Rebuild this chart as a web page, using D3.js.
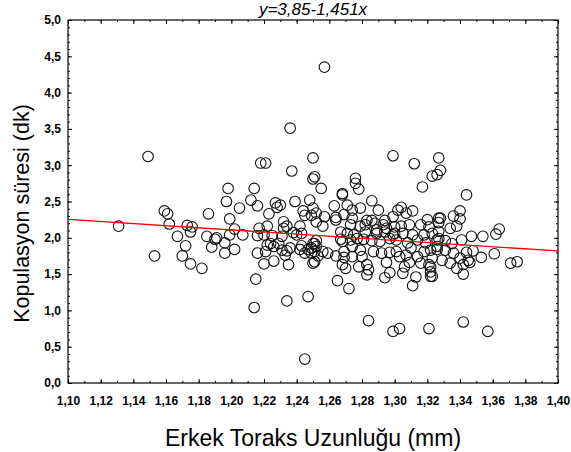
<!DOCTYPE html>
<html>
<head>
<meta charset="utf-8">
<script src="https://cdn.jsdelivr.net/npm/d3@7"></script>
<style>
  body { margin: 0; background: #fff; }
  #chart { width: 571px; height: 452px; }
  text { font-family: Arial, "Liberation Sans", sans-serif; }
</style>
</head>
<body>
<div id="chart"></div>
<script>
// x: male thorax length (mm), y: copulation duration (min)
const thoraxLength = [
  1.131, 1.149, 1.153, 1.159, 1.161, 1.162, 1.167, 1.170, 1.172, 1.173, 1.175, 1.175, 1.176, 1.182, 1.185, 1.186, 1.188, 1.190,
  1.191, 1.196, 1.196, 1.197, 1.198, 1.199, 1.199, 1.202, 1.202, 1.205, 1.207, 1.212, 1.214, 1.214, 1.215, 1.216, 1.216, 1.217,
  1.216, 1.218, 1.221, 1.221, 1.222, 1.220, 1.220, 1.222, 1.223, 1.224, 1.225, 1.226, 1.226, 1.227, 1.228, 1.229, 1.230, 1.231,
  1.231, 1.232, 1.232, 1.233, 1.234, 1.234, 1.235, 1.234, 1.236, 1.236, 1.237, 1.238, 1.239, 1.240, 1.242, 1.242, 1.243, 1.243,
  1.244, 1.245, 1.245, 1.245, 1.247, 1.247, 1.248, 1.249, 1.249, 1.250, 1.250, 1.250, 1.250, 1.251, 1.251, 1.252, 1.252, 1.252,
  1.255, 1.256, 1.257, 1.257, 1.263, 1.264, 1.268, 1.268, 1.269, 1.271, 1.274, 1.274, 1.276, 1.276, 1.278, 1.279, 1.283, 1.286,
  1.286, 1.290, 1.294, 1.299, 1.299, 1.302, 1.304, 1.307, 1.311, 1.312, 1.317, 1.320, 1.323, 1.326, 1.327, 1.327, 1.328,
  1.273, 1.279, 1.282, 1.289, 1.295, 1.300, 1.304, 1.309, 1.316, 1.321, 1.267, 1.300, 1.264, 1.288, 1.293,
  1.271, 1.275, 1.282, 1.289, 1.294, 1.299, 1.305, 1.311, 1.318, 1.323,
  1.252, 1.251, 1.267, 1.268, 1.273, 1.277, 1.281, 1.286, 1.291, 1.297, 1.301, 1.308, 1.314, 1.319, 1.326,
  1.249, 1.251, 1.256, 1.259, 1.264, 1.269, 1.274, 1.274, 1.279, 1.280, 1.287, 1.292, 1.297, 1.301, 1.303, 1.307, 1.310, 1.314,
  1.318, 1.326, 1.253, 1.250, 1.269,
  1.265, 1.272, 1.284, 1.299, 1.303, 1.321, 1.311, 1.313, 1.322, 1.322, 1.305, 1.297, 1.294, 1.283, 1.284, 1.283, 1.278, 1.270,
  1.268, 1.295, 1.306, 1.316, 1.321, 1.309,
  1.344, 1.340, 1.336, 1.340, 1.328, 1.327, 1.338, 1.334, 1.327, 1.364, 1.362, 1.354, 1.347, 1.341, 1.327, 1.331, 1.335, 1.322,
  1.326, 1.331, 1.336, 1.344, 1.348, 1.323, 1.329, 1.334, 1.340, 1.345, 1.338, 1.342, 1.346, 1.342, 1.353, 1.361, 1.371, 1.375,
  1.322, 1.323, 1.342, 1.357
];
const copulaDuration = [
  2.16, 3.12, 1.75, 2.37, 2.33, 2.19, 2.02, 1.75, 1.89, 2.17, 2.08, 1.64, 2.15, 1.58, 2.02, 2.33, 1.87, 1.98,
  2.00, 1.79, 1.93, 2.50, 2.68, 2.26, 2.04, 1.84, 2.12, 2.41, 2.04, 2.52, 2.68, 1.04, 1.43, 1.79, 2.44, 2.13,
  2.03, 3.03, 1.81, 3.03, 1.90, 2.04, 1.64, 2.16, 2.33, 1.92, 2.03, 1.68, 1.88, 2.48, 2.42, 1.92, 2.45, 2.02,
  1.83, 2.22, 2.13, 1.76, 1.82, 1.13, 1.63, 2.16, 1.86, 3.51, 2.92, 2.07, 2.50, 2.04, 2.16, 1.84, 1.89, 2.06,
  2.37, 0.33, 2.31, 1.79, 1.19, 1.84, 2.52, 2.31, 1.79, 2.81, 3.10, 2.41, 1.92, 2.84, 1.67, 1.88, 2.34, 2.22,
  2.68, 2.16, 2.29, 4.35, 2.44, 2.28, 2.61, 2.59, 2.32, 2.45, 2.38, 2.27, 2.82, 2.75, 2.67, 2.41, 2.24, 2.51,
  2.24, 2.38, 2.24, 3.13, 2.29, 2.38, 2.42, 2.34, 2.37, 3.02, 2.70, 2.25, 2.85, 2.87, 2.27, 3.10, 2.93,
  2.18, 2.16, 2.18, 2.11, 2.13, 2.15, 2.16, 2.18, 2.18, 2.15, 2.08, 2.06, 2.245, 2.20, 2.18,
  2.06, 2.04, 2.08, 2.06, 2.08, 2.04, 2.06, 2.04, 2.04, 2.06,
  1.96, 1.92, 1.98, 1.95, 1.97, 1.99, 1.98, 1.96, 1.95, 1.99, 1.97, 1.93, 1.97, 1.93, 1.97,
  1.86, 1.81, 1.81, 1.79, 1.75, 1.81, 1.88, 1.74, 1.83, 1.74, 1.81, 1.79, 1.80, 1.81, 1.74, 1.76, 1.86, 1.74,
  1.81, 1.88, 1.75, 1.65, 1.73,
  1.41, 1.30, 0.86, 0.71, 0.75, 0.75, 1.34, 1.46, 1.53, 1.47, 1.51, 1.52, 1.45, 1.63, 1.56, 1.49, 1.60, 1.58,
  1.63, 1.66, 1.60, 1.65, 1.63, 1.66,
  2.59, 2.37, 2.30, 2.26, 2.27, 2.21, 2.16, 2.13, 2.09, 2.12, 2.05, 2.02, 2.02, 1.97, 1.99, 1.96, 1.92, 1.83,
  1.84, 1.83, 1.79, 1.80, 1.82, 1.72, 1.69, 1.65, 1.72, 1.69, 1.58, 1.63, 1.66, 1.50, 1.73, 1.78, 1.65, 1.67,
  1.60, 1.47, 0.84, 0.71
];

// fitted line y = 3,85 - 1,451x
const fitIntercept = 3.85;
const fitSlope = -1.451;

const xTickValues = [1.10, 1.12, 1.14, 1.16, 1.18, 1.20, 1.22, 1.24, 1.26, 1.28, 1.30, 1.32, 1.34, 1.36, 1.38, 1.40];
const yTickValues = [0, 0.5, 1.0, 1.5, 2.0, 2.5, 3.0, 3.5, 4.0, 4.5, 5.0];

const titleText = 'y=3,85-1,451x';
const xTitle = 'Erkek Toraks Uzunluğu (mm)';
const yTitle = 'Kopulasyon süresi (dk)';

const width = 571, height = 452;
const margin = { top: 20, right: 13, bottom: 69, left: 68 };
const plotW = width - margin.left - margin.right;
const plotH = height - margin.top - margin.bottom;

// comma as decimal separator
const trLocale = d3.formatLocale({ decimal: ',', thousands: '.', grouping: [3], currency: ['', ' TL'] });
const fmt2 = trLocale.format('.2f');
const fmt1 = trLocale.format('.1f');

const svg = d3.select('#chart').append('svg')
  .attr('width', width)
  .attr('height', height);

const g = svg.append('g').attr('transform', `translate(${margin.left},${margin.top})`);

const x = d3.scaleLinear().domain([1.10, 1.40]).range([0, plotW]);
const y = d3.scaleLinear().domain([0, 5]).range([plotH, 0]);

const xMinor = d3.range(110, 141).map(d => d / 100);
const yMinor = d3.range(0, 51).map(d => d / 10);

// minor ticks on all four sides
const minorAxes = [
  [d3.axisBottom(x), `translate(0,${plotH})`, xMinor],
  [d3.axisTop(x), 'translate(0,0)', xMinor],
  [d3.axisLeft(y), 'translate(0,0)', yMinor],
  [d3.axisRight(y), `translate(${plotW},0)`, yMinor]
];
minorAxes.forEach(([ax, tr, vals]) => {
  g.append('g').attr('transform', tr)
    .call(ax.tickValues(vals).tickFormat('').tickSize(-2))
    .call(s => s.select('.domain').remove())
    .selectAll('line').attr('stroke', '#000');
});

// major ticks + labels
const xAxis = g.append('g').attr('transform', `translate(0,${plotH})`)
  .call(d3.axisBottom(x).tickValues(xTickValues).tickFormat(fmt2).tickSize(-4).tickPadding(13));
const yAxis = g.append('g')
  .call(d3.axisLeft(y).tickValues(yTickValues).tickFormat(fmt1).tickSize(-4).tickPadding(7));
g.append('g').attr('transform', 'translate(0,0)')
  .call(d3.axisTop(x).tickValues(xTickValues).tickFormat('').tickSize(-4));
g.append('g').attr('transform', `translate(${plotW},0)`)
  .call(d3.axisRight(y).tickValues(yTickValues).tickFormat('').tickSize(-4));

g.selectAll('.domain').remove();
g.selectAll('.tick line').attr('stroke', '#000');
[xAxis, yAxis].forEach(a => a.selectAll('text')
  .attr('font-family', 'Arial, "Liberation Sans", sans-serif')
  .attr('font-size', '12px')
  .attr('font-weight', 'bold')
  .attr('fill', '#000'));

// plot frame
g.append('rect')
  .attr('width', plotW)
  .attr('height', plotH)
  .attr('fill', 'none')
  .attr('stroke', '#000')
  .attr('stroke-width', 1.2);

// scatter points
const points = thoraxLength.map((t, i) => ({ t: t, d: copulaDuration[i] }));
g.append('g').selectAll('circle')
  .data(points)
  .join('circle')
  .attr('cx', p => x(p.t))
  .attr('cy', p => y(p.d))
  .attr('r', 5.3)
  .attr('fill', 'none')
  .attr('stroke', '#111')
  .attr('stroke-width', 1.1);

// regression line
const fitX = x.domain();
g.append('line')
  .attr('x1', x(fitX[0]))
  .attr('y1', y(fitIntercept + fitSlope * fitX[0]))
  .attr('x2', x(fitX[1]))
  .attr('y2', y(fitIntercept + fitSlope * fitX[1]))
  .attr('stroke', '#ff0000')
  .attr('stroke-width', 1.3);

// titles
svg.append('text')
  .attr('x', margin.left + plotW / 2)
  .attr('y', 15)
  .attr('text-anchor', 'middle')
  .attr('font-size', '17px')
  .attr('font-style', 'italic')
  .text(titleText);

svg.append('text')
  .attr('x', margin.left + plotW / 2)
  .attr('y', 446)
  .attr('text-anchor', 'middle')
  .attr('font-size', '23px')
  .text(xTitle);

svg.append('text')
  .attr('transform', `translate(29,${margin.top + plotH / 2 + 12}) rotate(-90)`)
  .attr('text-anchor', 'middle')
  .attr('font-size', '21.5px')
  .text(yTitle);
</script>
</body>
</html>
